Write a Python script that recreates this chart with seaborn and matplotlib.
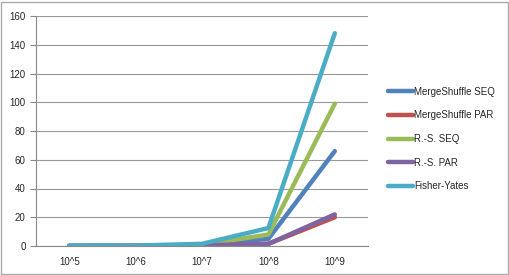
import seaborn as sns
import pandas as pd
import matplotlib.pyplot as plt
import numpy as np

sizes = ["10^5", "10^6", "10^7", "10^8", "10^9"]
merge_seq = [0.1, 0.2, 0.8, 5, 66]
merge_par = [0.1, 0.2, 0.5, 1.5, 20]
rs_seq = [0.1, 0.2, 0.8, 8, 99]
rs_par = [0.1, 0.2, 0.5, 1.5, 22]
fisher_yates = [0.2, 0.3, 1.5, 12.5, 148]

series = {
    "MergeShuffle SEQ": merge_seq,
    "MergeShuffle PAR": merge_par,
    "R.-S. SEQ": rs_seq,
    "R.-S. PAR": rs_par,
    "Fisher-Yates": fisher_yates,
}
colors = ["#4F81BD", "#C0504D", "#9BBB59", "#8064A2", "#4BACC6"]

rows = []
for name, vals in series.items():
    for i, v in enumerate(vals):
        rows.append({"pos": i, "time": v, "algo": name})
df = pd.DataFrame(rows)

sns.set_style("white")
plt.rcParams["font.family"] = ["Liberation Sans", "DejaVu Sans"]

fig = plt.figure(figsize=(5.1, 2.75), dpi=100)
ax = fig.add_axes([36 / 510, 1 - 246 / 275, 332 / 510, 230 / 275])

sns.lineplot(data=df, x="pos", y="time", hue="algo", palette=colors,
             linewidth=3.2, ax=ax, legend=True, solid_capstyle="round")

ax.set_xlim(-0.5, 4.5)
ax.set_ylim(0, 160)
ax.set_yticks(np.arange(0, 161, 20))
ax.set_xticks(range(len(sizes)))
ax.set_xticklabels(sizes)
ax.set_xticks(np.arange(-0.5, 4.6, 1), minor=True)
ax.tick_params(axis="x", which="major", length=0, labelsize=7, pad=8)
ax.tick_params(axis="x", which="minor", length=4, color="#888888", width=0.8)
ax.tick_params(axis="y", length=4, color="#888888", width=0.8, labelsize=7, direction="out", left=True)
ax.grid(axis="y", color="#999999", linewidth=0.8)
ax.set_axisbelow(True)
for side in ["top", "right"]:
    ax.spines[side].set_visible(False)
ax.spines["left"].set_color("#888888")
ax.spines["bottom"].set_color("#888888")
ax.spines["left"].set_linewidth(0.8)
ax.spines["bottom"].set_linewidth(0.8)
ax.set_xlabel("")
ax.set_ylabel("")

handles, labels = ax.get_legend_handles_labels()
ax.legend(handles, labels, loc="center left", bbox_to_anchor=(1.045, 0.465),
          frameon=False, fontsize=7, handlelength=2.6, handletextpad=0.1,
          labelspacing=1.4, borderpad=0)

fig.patches.append(plt.Rectangle((0.002, 0.004), 0.995, 0.99, transform=fig.transFigure,
                                 fill=False, edgecolor="#aaaaaa", linewidth=1))

fig.savefig("out.png", dpi=100)
